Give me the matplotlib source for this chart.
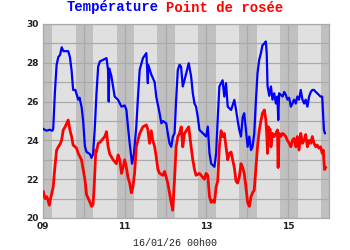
import matplotlib
matplotlib.use("Agg")
import matplotlib.pyplot as plt
import numpy as np

# hours since 09/01 00h00
temp_h = [0, 2, 4, 5.5, 6, 7, 8, 9, 10, 11, 12, 13, 14, 14.8, 15.8, 16.8, 17.7, 19,
          19.7, 20.7, 21.5, 22.7, 23.6, 24.6, 25.6, 27.5, 28.5, 29.4, 30.4, 31.4,
          32.4, 33.4, 35.3, 37.3, 38.2, 38.6, 39, 40.2, 42.1, 44.1, 46.1, 48, 49,
          49.9, 50.9, 52.3, 53.4, 54.8, 55.8, 56.8, 58.7, 60.7, 61.6, 61.8, 63.6,
          65.6, 66.5, 68.5, 69.5, 70.5, 72.4, 73.3, 74.3, 75.3, 76.3, 77.3, 78.2,
          79.2, 80.2, 81.1, 82.1, 83.1, 84.1, 85.6, 87, 88, 89, 89.9, 90.9, 91.9,
          93.9, 95.8, 96.8, 97.8, 98.8, 100.7, 101.7, 102.6, 103.6, 104.6, 105.5,
          106.5, 107.5, 108.5, 110.5, 112.4, 113.4, 114.3, 115.3, 116.3, 117.3,
          118.2, 119.2, 120.2, 121.2, 122.2, 123.1, 124.1, 125.1, 126, 127, 128,
          128.9, 130, 130.9, 131.4, 131.9, 132.9, 133.9, 134.8, 135.8, 136.8,
          137.7, 138.2, 138.7, 140.7, 141.7, 142.6, 143.6, 144.6, 145.6, 146.5,
          147.5, 148.5, 149.4, 150.4, 151.4, 152.4, 153.4, 154.3, 155.3, 156.3,
          157.3, 158.2, 159.2, 160.2, 161.1, 163, 164, 165, 165.6]
temp = [24.6, 24.5, 24.55, 24.5, 24.6, 26.5, 27.9, 28.3, 28.4, 28.8, 28.6, 28.6, 28.6,
        28.6, 28.3, 27.6, 26.6, 26.6, 26.4, 26.1, 26.2, 25.7, 25.0, 23.7, 23.4,
        23.3, 23.1, 23.3, 24.6, 26.4, 27.8, 28.07, 28.15, 28.24, 27.64, 26.0,
        27.7, 27.3, 26.26, 26.09, 25.74, 25.8, 25.57, 24.71, 23.85, 22.8, 23.3,
        24.7, 26.26, 27.64, 28.24, 28.5, 26.95, 27.9, 27.4, 27.0, 26.26, 25.4,
        24.88, 25.0, 24.88, 24.37, 23.85, 23.67, 24.2, 24.37, 26.09, 27.64, 27.9,
        27.8, 26.78, 27.1, 27.46, 27.98, 27.3, 26.43, 25.9, 25.74, 25.22, 24.54,
        24.37, 24.2, 24.71, 23.33, 22.8, 22.64, 23.33, 25.05, 26.78, 26.95,
        27.1, 26.26, 26.95, 25.74, 25.57, 26.09, 25.57, 25.05, 24.54, 24.2,
        25.2, 25.4, 24.54, 23.67, 24.2, 23.5, 23.67, 24.37, 26.09, 27.46, 28.15,
        28.5, 28.9, 29.0, 29.1, 28.5, 26.8, 26.3, 26.78, 26.1, 26.43, 25.9,
        26.26, 25.05, 26.43, 26.26, 26.5, 26.35, 26.1, 26.2, 25.74, 25.9, 26.1,
        25.9, 26.26, 26.1, 26.6, 26.1, 25.9, 26.1, 25.74, 26.26, 26.5, 26.6,
        26.6, 26.5, 26.43, 26.26, 26.26, 24.54, 24.37]

dew_h = [0.2, 1.2, 2.2, 3, 3.7, 4.4, 5.1, 6, 7, 8, 9, 10, 10.9, 11.9, 13, 13.9, 14.8,
         15.8, 16.8, 17.7, 19.7, 20.7, 22.6, 23.6, 24.6, 25.6, 27.5, 28.5, 29.4,
         30, 31, 31.4, 32.4, 33.4, 34.4, 36.3, 37.3, 38.2, 39.2, 41.2, 43.1, 44.1,
         45.1, 46.1, 47, 48, 49, 49.9, 50.9, 51.9, 52.8, 53.8, 54.8, 56.8, 58.7,
         60.7, 61.6, 62.6, 63.6, 64.5, 65.6, 66.5, 67.5, 68.5, 70.4, 71.4, 72.4,
         73.3, 74.3, 75.3, 76.2, 77.2, 78.2, 79.2, 80.2, 81.2, 82.1, 83.1, 84.1,
         85.6, 87, 88, 89, 89.9, 91.9, 93.8, 94.8, 95.8, 96.8, 97.8, 98.8, 99.7,
         100.7, 101.7, 102.6, 103.6, 104.6, 105.5, 106.5, 107.5, 108.5, 109.5,
         110.5, 111.4, 112.4, 113.4, 114.3, 115.3, 116.3, 117.3, 118.2, 119.2,
         120.2, 121.2, 122.2, 123.1, 124.1, 125.1, 126, 127, 128, 128.9, 130,
         130.9, 131.5, 131.9, 132.3, 133.5, 133.9, 134.8, 135.8, 136.8, 137.7,
         138.1, 138.7, 139.7, 140.7, 141.7, 142.6, 143.6, 144.6, 145.6, 146.5,
         147.5, 148.5, 149.4, 150.4, 151.4, 152.4, 153.4, 154.3, 155.3, 156.3,
         157.3, 158.2, 159.2, 160.2, 161.1, 162.1, 163.1, 164, 164.6, 165.4, 166]
dew = [21.35, 21.0, 21.1, 20.9, 20.66, 21.0, 21.25, 21.6, 22.64, 23.5, 23.67, 23.8,
       24.0, 24.54, 24.7, 24.88, 25.05, 24.54, 24.2, 23.76, 23.6, 23.33, 23.0,
       22.5, 22.0, 21.2, 20.83, 20.6, 20.7, 21.5, 23.5, 23.4, 23.85, 23.9, 24.0,
       24.2, 24.45, 23.7, 23.3, 23.0, 22.8, 23.25, 23.0, 22.3, 22.6, 23.0, 22.6,
       22.1, 21.8, 21.3, 21.6, 22.3, 23.67, 24.36, 24.7, 24.8, 24.55, 23.85,
       24.5, 24.0, 23.67, 23.16, 22.5, 22.3, 22.2, 22.4, 22.1, 21.8, 21.3, 20.8,
       20.4, 21.9, 23.67, 24.2, 24.36, 24.7, 23.67, 24.36, 24.5, 24.7, 23.67,
       23.0, 22.5, 22.2, 22.3, 22.1, 22.0, 22.3, 22.2, 21.1, 20.8, 20.9, 20.8,
       21.6, 21.9, 23.67, 24.5, 24.2, 24.36, 23.67, 23.0, 23.33, 23.4, 23.0,
       22.6, 21.9, 21.8, 22.1, 22.8, 22.6, 22.3, 21.6, 20.8, 20.6, 21.1, 21.3,
       21.45, 22.6, 23.67, 24.5, 25.0, 25.4, 25.57, 25.05, 24.2, 23.33, 24.7,
       24.54, 23.67, 24.36, 24.2, 24.36, 24.54, 22.6, 24.36, 24.2, 24.36, 24.3,
       24.2, 24.0, 23.85, 23.67, 24.0, 24.1, 23.67, 24.2, 23.5, 24.36, 23.85,
       24.0, 24.3, 23.67, 24.0, 23.85, 24.2, 23.85, 23.67, 23.76, 23.6, 23.67,
       23.33, 23.5, 22.5, 22.6]

first_day = 9
n_days = 7
sunrise = 5.5
sunset = 19.25
y_ticks = [20, 22, 24, 26, 28, 30]
x_ticks = [9, 11, 13, 15]
x_labels = ["09", "11", "13", "15"]


def to_days(hours):
	return first_day + np.asarray(hours) / 24.0


fig = plt.figure(figsize=(3.5, 2.5), dpi=100)
ax = fig.add_axes([43 / 350, 32 / 250, 286 / 350, 194 / 250])
ax.set_facecolor("#e0e0e0")

# night bands
for d in range(n_days + 1):
	day = first_day + d
	ax.axvspan(day - (24 - sunset) / 24, day + sunrise / 24, color="#c0c0c0", lw=0, zorder=0)

for y in range(20, 31):
	ax.axhline(y, color="#aaaaaa", lw=0.9, zorder=1)
for d in range(n_days + 1):
	ax.axvline(first_day + d, color="#aaaaaa", lw=0.9, zorder=1)

ax.plot(to_days(temp_h), temp, color="#0000ff", lw=1.6, zorder=3)
ax.plot(to_days(dew_h), dew, color="#ff0000", lw=2.0, zorder=3)

ax.set_xlim(first_day, first_day + n_days)
ax.set_ylim(20, 30)
ax.set_yticks(y_ticks)
ax.set_yticklabels([str(v) for v in y_ticks])
ax.set_xticks(x_ticks)
ax.set_xticklabels(x_labels)
ax.tick_params(length=0, labelsize=6.5, colors="#222222", pad=3)
for lab in ax.get_xticklabels() + ax.get_yticklabels():
	lab.set_fontweight("bold")
for s in ax.spines.values():
	s.set_color("#aaaaaa")
	s.set_linewidth(0.9)

fig.text(67 / 350, 0.97, "Température", color="#0000ff", family="Liberation Mono",
         weight="bold", fontsize=10, ha="left", va="center")
fig.text(166 / 350, 0.97, "Point de rosée", color="#ff0000", family="Liberation Mono",
         weight="bold", fontsize=10, ha="left", va="center")
fig.text(175 / 350, 7 / 250, "16/01/26 00h00", color="#222222", family="Liberation Mono",
         fontsize=7.2, ha="center", va="center")

fig.savefig("out.png", dpi=100)
